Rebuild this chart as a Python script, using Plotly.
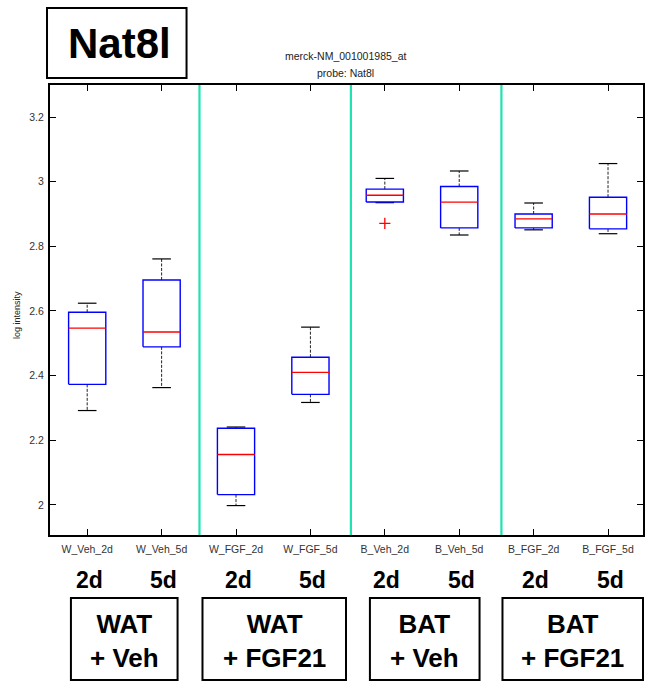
import plotly.graph_objects as go

categories = ["W_Veh_2d", "W_Veh_5d", "W_FGF_2d", "W_FGF_5d",
              "B_Veh_2d", "B_Veh_5d", "B_FGF_2d", "B_FGF_5d"]
upper_whisker = [2.624, 2.761, 2.241, 2.550, 3.010, 3.033, 2.934, 3.056]
q3 = [2.596, 2.696, 2.237, 2.457, 2.977, 2.985, 2.900, 2.952]
median = [2.547, 2.535, 2.156, 2.410, 2.958, 2.937, 2.885, 2.900]
q1 = [2.373, 2.489, 2.032, 2.342, 2.937, 2.857, 2.857, 2.854]
lower_whisker = [2.292, 2.363, 1.998, 2.317, 2.935, 2.835, 2.851, 2.839]
outlier_group = [5]
outlier_value = [2.871]
separators = [2.509, 4.544, 6.567]
day_labels = ["2d", "5d", "2d", "5d", "2d", "5d", "2d", "5d"]
group_labels = ["WAT<br>+ Veh", "WAT<br>+ FGF21", "BAT<br>+ Veh", "BAT<br>+ FGF21"]
y_ticks = [2, 2.2, 2.4, 2.6, 2.8, 3, 3.2]
y_tick_text = ["2", "2.2", "2.4", "2.6", "2.8", "3", "3.2"]

FONT = "Liberation Sans, Arial, sans-serif"
W, H = 647, 682
L, R, T, B = 50, 2, 85, 147
pw = W - L - R
ph = H - T - B

def px(xp):
    return (xp - L) / pw

def py(yp):
    return (H - B - yp) / ph

pos = list(range(1, len(categories) + 1))
hw = 0.25
cw = 0.125

bx, by = [], []
mx, my = [], []
wx, wy = [], []
cx, cy = [], []
for i, p in enumerate(pos):
    bx += [p - hw, p + hw, p + hw, p - hw, p - hw, None]
    by += [q1[i], q1[i], q3[i], q3[i], q1[i], None]
    mx += [p - hw, p + hw, None]
    my += [median[i], median[i], None]
    wx += [p, p, None, p, p, None]
    wy += [q3[i], upper_whisker[i], None, q1[i], lower_whisker[i], None]
    cx += [p - cw, p + cw, None, p - cw, p + cw, None]
    cy += [upper_whisker[i], upper_whisker[i], None, lower_whisker[i], lower_whisker[i], None]

fig = go.Figure()
fig.add_trace(go.Scatter(x=wx, y=wy, mode="lines", line=dict(color="#222", width=1, dash="3px,1.5px"), hoverinfo="skip"))
fig.add_trace(go.Scatter(x=cx, y=cy, mode="lines", line=dict(color="black", width=1.2), hoverinfo="skip"))
fig.add_trace(go.Scatter(x=bx, y=by, mode="lines", line=dict(color="blue", width=1.4), hoverinfo="skip"))
fig.add_trace(go.Scatter(x=mx, y=my, mode="lines", line=dict(color="red", width=1.3), hoverinfo="skip"))
fig.add_trace(go.Scatter(x=outlier_group, y=outlier_value, mode="markers",
                         marker=dict(symbol="cross-thin", size=8, line=dict(color="red", width=1.3)),
                         hoverinfo="skip"))

shapes = []
for s in separators:
    shapes.append(dict(type="line", xref="x", yref="paper", x0=s, x1=s, y0=0, y1=1,
                       line=dict(color="#1FE3B2", width=2.2)))

annotations = []
# Gene name box
shapes.append(dict(type="rect", xref="paper", yref="paper", x0=px(47), x1=px(187), y0=py(78), y1=py(8),
                   line=dict(color="black", width=2)))
annotations.append(dict(text="<b>Nat8l</b>", xref="paper", yref="paper", x=px(120), y=py(44),
                        showarrow=False, font=dict(family=FONT, size=42, color="black"),
                        xanchor="center", yanchor="middle"))
annotations.append(dict(text="merck-NM_001001985_at", xref="paper", yref="paper", x=px(346), y=py(56),
                        showarrow=False, font=dict(family=FONT, size=10.5, color="#222"),
                        xanchor="center", yanchor="middle"))
annotations.append(dict(text="probe: Nat8l", xref="paper", yref="paper", x=px(346), y=py(73),
                        showarrow=False, font=dict(family=FONT, size=10.5, color="#222"),
                        xanchor="center", yanchor="middle"))
annotations.append(dict(text="log intensity", xref="paper", yref="paper", x=px(17), y=py(315),
                        showarrow=False, textangle=-90, font=dict(family=FONT, size=9, color="#222"),
                        xanchor="center", yanchor="middle"))
for i, p in enumerate(pos):
    annotations.append(dict(text="<b>" + day_labels[i] + "</b>", xref="x", yref="paper", x=p, y=py(579.5),
                            showarrow=False, font=dict(family=FONT, size=23, color="black"),
                            xanchor="center", yanchor="middle", xshift=2))
group_boxes = [(71, 178), (203, 347), (371, 481), (504, 645)]
for (x0, x1), g in zip(group_boxes, group_labels):
    shapes.append(dict(type="rect", xref="paper", yref="paper", x0=px(x0), x1=px(x1), y0=py(680), y1=py(598),
                       line=dict(color="black", width=2)))
    annotations.append(dict(text="<b>" + g + "</b>", xref="paper", yref="paper", x=px((x0 + x1) / 2), y=py(641),
                            showarrow=False, font=dict(family=FONT, size=26, color="black"),
                            xanchor="center", yanchor="middle"))

fig.update_layout(
    width=W, height=H,
    margin=dict(l=L, r=R, t=T, b=B, pad=0),
    plot_bgcolor="white", paper_bgcolor="white",
    showlegend=False,
    shapes=shapes, annotations=annotations,
    font=dict(family=FONT, size=10.5, color="#222"),
)
fig.update_xaxes(range=[0.5, 8.47], tickvals=pos, ticktext=categories, ticks="inside", ticklen=6,
                 tickcolor="black", showline=True, linecolor="black", linewidth=2, mirror="ticks",
                 showgrid=False, zeroline=False, ticklabelstandoff=3,
                 tickfont=dict(family=FONT, size=10.5, color="#333"))
fig.update_yaxes(range=[1.907, 3.299], tickvals=y_ticks, ticktext=y_tick_text, ticks="inside", ticklen=6,
                 tickcolor="black", showline=True, linecolor="black", linewidth=2, mirror="ticks",
                 showgrid=False, zeroline=False, ticklabelstandoff=2,
                 tickfont=dict(family=FONT, size=10.5, color="#333"))

fig.write_html("out.html", config={"displayModeBar": False},
               post_script="document.body.style.margin='0';document.body.style.overflow='hidden';")
